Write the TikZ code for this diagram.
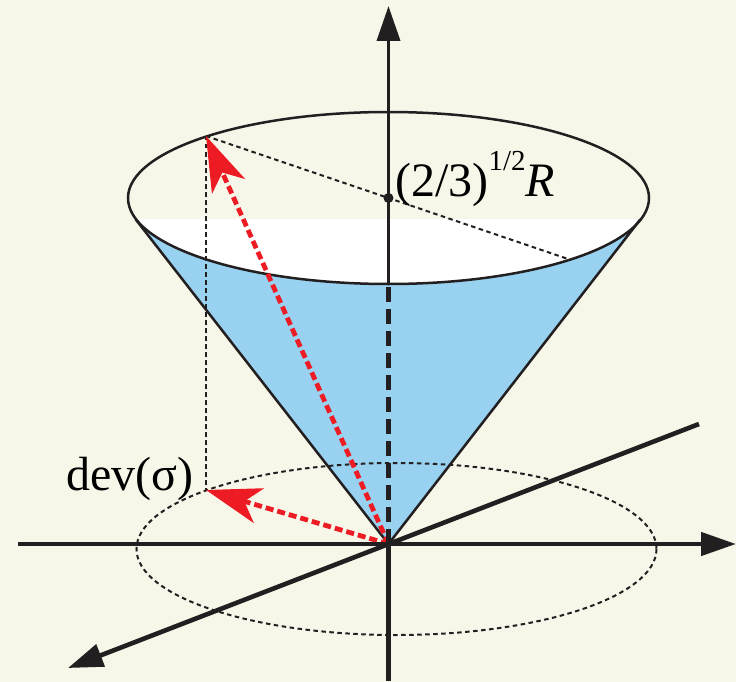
\documentclass[tikz,border=0pt]{standalone}
\usepackage{fontspec}
\setmainfont{Liberation Serif}
\usetikzlibrary{arrows.meta}
\definecolor{bgcream}{RGB}{247,247,233}
\definecolor{coneblue}{RGB}{152,210,240}
\definecolor{arrowred}{RGB}{237,28,36}
\definecolor{axisblack}{RGB}{35,31,32}
\tikzset{
	axis/.style={line width=4.6pt,color=axisblack},
	axistip/.style={-{Triangle[length=35pt,width=23pt]}},
	rim/.style={line width=2.5pt,color=axisblack},
	guide/.style={line width=2pt,color=axisblack,dash pattern=on 4.5pt off 3.5pt},
	redvec/.style={line width=4.8pt,color=arrowred,dash pattern=on 8pt off 4pt,-{Stealth[length=55pt,width=36pt,inset=15pt]}},
	lbl/.style={inner sep=0pt,font=\fontsize{48}{52}\selectfont}
}
\begin{document}
\begin{tikzpicture}[x=1pt,y=-1pt]
				\useasboundingbox (0,0) rectangle (736,682);
				\fill[bgcream] (0,0) rectangle (736,682);
				\coordinate (apex) at (388.5,544);
				\coordinate (top) at (388.5,198);
				\coordinate (base) at (396.5,549);
				\coordinate (TL) at (135.7,219.4);
				\coordinate (TR) at (640.3,219.4);
				\coordinate (front) at (388.5,284);
				\coordinate (rimtip) at (206,136);
				\coordinate (rimopp) at (571,260);
				\coordinate (devtip) at (206,490);
				\coordinate (vtop) at (388.5,6);
				\coordinate (vbot) at (388.5,681);
				\coordinate (hleft) at (18,544);
				\coordinate (hright) at (736,544);
				\coordinate (obup) at (699,424);
				\coordinate (obdown) at (68,668);
				\fill[coneblue] (apex)--(TL)--(TR)--cycle;
				\begin{scope}
					\clip (0,219.4) rectangle (736,300);
					\fill[white] (top) ellipse [x radius=260.5, y radius=86];
				\end{scope}
				\draw[guide] (base) ellipse [x radius=260, y radius=86];
				\draw[rim] (top) ellipse [x radius=260.5, y radius=86];
				\draw[rim] (TL)--(apex)--(TR);
				\draw[guide] (rimtip)--(rimopp);
				\draw[guide] (rimtip)--(devtip);
				\draw[redvec] (apex)--(rimtip);
				\draw[redvec] (apex)--(devtip);
				\draw[axis] (vbot)--(apex);
				\draw[axis,dash pattern=on 15pt off 7pt] (apex)--(front);
				\draw[axis,axistip,line width=3.8pt] (front)--(vtop);
				\draw[axis,axistip] (hleft)--(hright);
				\draw[axis,axistip] (obup)--(obdown);
				\foreach \P in {top} \fill[axisblack] (\P) circle (5);
				\node[lbl,anchor=base west] (radius) at (395,196) {(2/3)\raisebox{26pt}{\fontsize{29}{29}\selectfont 1/2}\textit{R}};
				\node[lbl,anchor=base east] (dev) at (194,490) {dev(σ)};
			\end{tikzpicture}
\end{document}
